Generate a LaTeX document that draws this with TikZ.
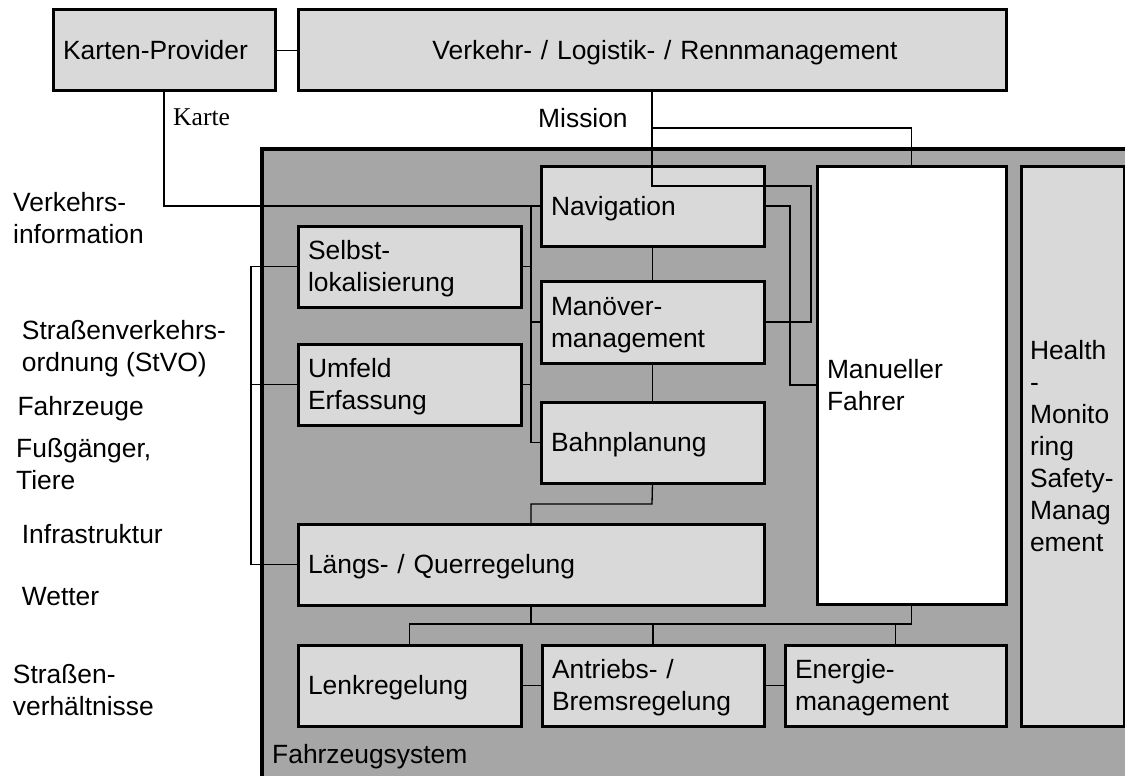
\documentclass[tikz,border=0pt]{standalone}
\usepackage{fontspec}
\setmainfont{Liberation Sans}
\newfontfamily\kartefont{Liberation Serif}
\definecolor{boxgray}{RGB}{217,217,217}
\definecolor{sysgray}{RGB}{166,166,166}
\newcommand\mfs{\fontsize{26.4pt}{32pt}\selectfont}
\newcommand\pstrut{\rule[-0.212em]{0pt}{1.117em}}
\begin{document}
\begin{tikzpicture}[x=1pt,y=-1pt,
  box/.style={draw=black, line width=3pt, fill=boxgray, outer sep=0pt,
    inner xsep=10pt, inner ysep=0pt, align=left, anchor=north west, font=\mfs,
    execute at begin node=\pstrut, execute at end node=\pstrut},
  conn/.style={draw=black, line width=1.3pt},
  lbl/.style={font=\mfs, inner sep=0pt, anchor=base west, align=left}]
\useasboundingbox (0,0) rectangle (1125,776);
\clip (0,0) rectangle (1125,776);
\fill[white] (0,0) rectangle (1125,776);

% vehicle system container
\path[draw=black, line width=4.5pt, fill=sysgray] (262,149) rectangle (1180,830);

% boxes
\node[box, text width=202pt, minimum height=81pt] (kp) at (53,10) {Karten-Provider};
\node[box, text width=688pt, minimum height=81pt, align=center] (vl) at (298,10) {\hspace*{26pt}Verkehr- / Logistik- / Rennmanagement};
\node[box, text width=203pt, minimum height=80pt] (nav) at (541,166) {Navigation};
\node[box, text width=169pt, minimum height=438pt, fill=white] (mf) at (817,166) {Manueller\\Fahrer};
\node[box, text width=85pt, inner xsep=9pt, minimum height=560pt] (hm) at (1021,166) {Health\\-\\Monito\\ring\\Safety-\\Manag\\ement};
\node[box, text width=203pt, minimum height=81pt] (sl) at (298,226) {Selbst-\\lokalisierung};
\node[box, text width=203pt, minimum height=82pt] (man) at (541,281) {Manöver-\\management};
\node[box, text width=203pt, minimum height=81pt] (uf) at (298,344) {Umfeld\\Erfassung};
\node[box, text width=203pt, minimum height=81pt] (bahn) at (541,402) {Bahnplanung};
\node[box, text width=446pt, minimum height=81pt] (lq) at (298,524) {Längs- / Querregelung};
\node[box, text width=203pt, minimum height=81pt] (lenk) at (298,645) {Lenkregelung};
\node[box, text width=202pt, minimum height=81pt] (ant) at (542,645) {Antriebs- /\\Bremsregelung};
\node[box, text width=201pt, minimum height=81pt] (en) at (785,645) {Energie-\\management};

% helper coordinates
\coordinate (m1) at (652,186);
\coordinate (m2) at (811,186);
\coordinate (mj) at (652,128);
\coordinate (n1) at (790,206);
\coordinate (bus1) at (531,206);
\coordinate (b1) at (652,504);
\coordinate (lb) at (251,0);
\coordinate (busb) at (0,624);

% connectors
\draw[conn] (kp.east) -- (vl.west);
\draw[conn] (kp.south) |- (nav.west);
\draw[conn] (vl.south) -- (m1) -- (m2) |- (man.east);
\draw[conn] (mj) -| (mf.north);
\draw[conn] (nav.east) -- (n1) |- (mf.west);
\draw[conn] (nav.south) -- (man.north);
\draw[conn] (man.south) -- (bahn.north);
\draw[conn] (bus1) |- (bahn.west);
\draw[conn] (sl.east) -- (sl.east -| bus1);
\draw[conn] (uf.east) -- (uf.east -| bus1);
\draw[conn] (man.west) -- (man.west -| bus1);
\draw[conn] (bahn.south) -- (b1) -| (lq.north);
\draw[conn] (sl.west) -- (sl.west -| lb) |- (lq.west);
\draw[conn] (uf.west) -- (uf.west -| lb);
\draw[conn] (lq.south) -- (lq.south |- busb);
\draw[conn] (lenk.north) -- (lenk.north |- busb) -- (mf.south |- busb) -- (mf.south);
\draw[conn] (ant.north) -- (ant.north |- busb);
\draw[conn] (en.north) -- (en.north |- busb);
\draw[conn] (lenk.east) -- (ant.west);
\draw[conn] (ant.east) -- (en.west);

% free labels (base = baseline of the last line)
\node[lbl] (mission) at (538,127) {Mission};
\node[lbl, font=\kartefont\fontsize{25.6pt}{32pt}\selectfont] (karte) at (173,125) {Karte};
\node[lbl] (fzs) at (272,763) {Fahrzeugsystem};
\node[lbl] (l1) at (13,243.3) {Verkehrs-\\information};
\node[lbl] (l2) at (21.7,371) {Straßenverkehrs-\\ordnung (StVO)};
\node[lbl] (l3) at (17.3,415) {Fahrzeuge};
\node[lbl] (l4) at (16,489) {Fußgänger,\\Tiere};
\node[lbl] (l5) at (21.7,543) {Infrastruktur};
\node[lbl] (l6) at (21.7,605) {Wetter};
\node[lbl] (l7) at (12.7,715) {Straßen-\\verhältnisse};
\end{tikzpicture}
\end{document}
